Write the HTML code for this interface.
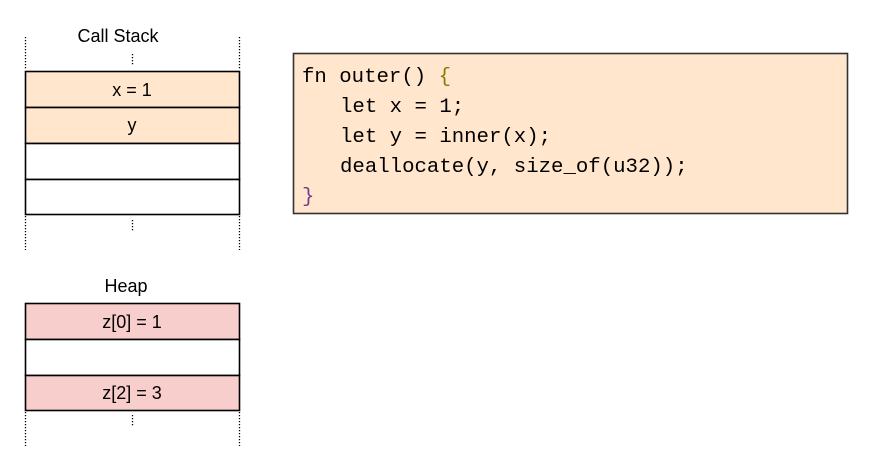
<!DOCTYPE html>
<html><head><meta charset="utf-8"><style>
html,body{margin:0;padding:0;background:#fff;width:877px;height:466px;overflow:hidden}
</style></head><body>
<svg width="877" height="466" viewBox="0 0 877 466" xmlns="http://www.w3.org/2000/svg">
<g font-family="Liberation Sans, Arial, sans-serif" font-size="18" fill="#000" text-anchor="middle">
<text x="118" y="42">Call Stack</text>
<text x="126" y="292">Heap</text>
</g>
<g stroke="#000" stroke-width="1.3" stroke-dasharray="1.3 1.7" fill="none">
<line x1="25.5" y1="37" x2="25.5" y2="70"/>
<line x1="239.5" y1="37" x2="239.5" y2="70"/>
<line x1="132.5" y1="54" x2="132.5" y2="65"/>
<line x1="25.5" y1="216" x2="25.5" y2="250"/>
<line x1="239.5" y1="216" x2="239.5" y2="250"/>
<line x1="132.5" y1="220" x2="132.5" y2="231"/>
<line x1="25.5" y1="412" x2="25.5" y2="446"/>
<line x1="239.5" y1="412" x2="239.5" y2="446"/>
<line x1="132.5" y1="415" x2="132.5" y2="427"/>
</g>
<g stroke="#000" stroke-width="1.6">
<rect x="25.5" y="71.5" width="214" height="36" fill="#ffe6cc"/>
<rect x="25.5" y="107.5" width="214" height="36" fill="#ffe6cc"/>
<rect x="25.5" y="143.5" width="214" height="36" fill="#fff"/>
<rect x="25.5" y="179.5" width="214" height="35" fill="#fff"/>
<rect x="25.5" y="303.5" width="214" height="36" fill="#f8cecc"/>
<rect x="25.5" y="339.5" width="214" height="36" fill="#fff"/>
<rect x="25.5" y="375.5" width="214" height="35" fill="#f8cecc"/>
<rect x="293.5" y="53.5" width="554" height="160" fill="#ffe6cc" stroke="#333"/>
</g>
<g font-family="Liberation Sans, Arial, sans-serif" font-size="18" fill="#000" text-anchor="middle">
<text x="132" y="96">x = 1</text>
<text x="132" y="131">y</text>
<text x="132" y="328">z[0] = 1</text>
<text x="132" y="399">z[2] = 3</text>
</g>
<g font-family="Liberation Mono, monospace" font-size="20.7" fill="#000" xml:space="preserve">
<text x="302" y="82">fn outer() <tspan fill="#8a7a00">{</tspan></text>
<text x="340" y="112">let x = 1;</text>
<text x="340" y="142">let y = inner(x);</text>
<text x="340" y="172">deallocate(y, size_of(u32));</text>
<text x="302" y="202" fill="#7a3a8a">}</text>
</g>
</svg>
</body></html>
